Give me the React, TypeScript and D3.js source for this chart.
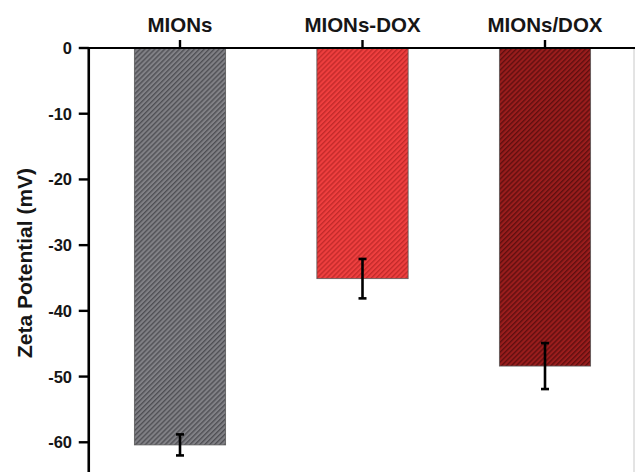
import React from "react";
import * as d3 from "d3";

const categories = ["MIONs", "MIONs-DOX", "MIONs/DOX"];
const zetaValues = [-60.4, -35.1, -48.4];
const zetaErrors = [1.6, 3.0, 3.5];
const yTicks = [0, -10, -20, -30, -40, -50, -60];

const fills = [
  { base: "#818186", stripe: "#4c4c51" },
  { base: "#ee3f3f", stripe: "#c02828" },
  { base: "#9a1d1d", stripe: "#5c0e0e" },
];

const W = 635;
const H = 472;
const font = "'Liberation Sans', Arial, Helvetica, sans-serif";
const hatch = 3.5;

export default function App() {
  const x = d3
    .scaleBand<string>()
    .domain(categories)
    .range([88.75, 636.25])
    .paddingInner(0.5)
    .paddingOuter(0.25);
  const y = d3.scaleLinear().domain([0, -70]).range([48, 508]);
  const axisX = 88.75;
  const y0 = y(0);

  return (
    <svg
      width={W}
      height={H}
      style={{ position: "absolute", left: 0, top: 0, display: "block", background: "#fff" }}
    >
      <defs>
        {fills.map((f, i) => (
          <pattern
            key={i}
            id={`hatch-${i}`}
            patternUnits="userSpaceOnUse"
            width={hatch}
            height={hatch}
            patternTransform="rotate(45)"
          >
            <rect width={hatch} height={hatch} fill={f.base} />
            <line x1={0.7} y1={0} x2={0.7} y2={hatch} stroke={f.stripe} strokeWidth={1.3} />
          </pattern>
        ))}
      </defs>

      {/* bars */}
      {categories.map((c, i) => {
        const v = zetaValues[i];
        return (
          <rect
            key={c}
            x={x(c)}
            y={y(0)}
            width={x.bandwidth()}
            height={y(v) - y(0)}
            fill={`url(#hatch-${i})`}
            stroke="#5a5a5a"
            strokeWidth={0.8}
          />
        );
      })}

      {/* error bars */}
      {categories.map((c, i) => {
        const cx = (x(c) as number) + x.bandwidth() / 2;
        const top = y(zetaValues[i] + zetaErrors[i]);
        const bot = y(zetaValues[i] - zetaErrors[i]);
        return (
          <g key={c} stroke="#000" strokeWidth={2.6}>
            <line x1={cx} x2={cx} y1={top} y2={bot} />
            <line x1={cx - 4} x2={cx + 4} y1={top} y2={top} />
            <line x1={cx - 4} x2={cx + 4} y1={bot} y2={bot} />
          </g>
        );
      })}

      {/* right frame */}
      <line x1={634} x2={634} y1={y0} y2={H} stroke="#c8c8c8" strokeWidth={1} />

      {/* top axis */}
      <line x1={axisX} x2={W} y1={y0} y2={y0} stroke="#000" strokeWidth={2.2} />
      {categories.map((c) => {
        const cx = (x(c) as number) + x.bandwidth() / 2;
        return (
          <g key={c}>
            <line x1={cx} x2={cx} y1={y0} y2={y0 - 8} stroke="#000" strokeWidth={2.4} />
            <text
              x={cx}
              y={32}
              textAnchor="middle"
              fontFamily={font}
              fontWeight="bold"
              fontSize={20.5}
              fill="#161616"
            >
              {c}
            </text>
          </g>
        );
      })}

      {/* left axis */}
      <line x1={axisX} x2={axisX} y1={y0 - 1.1} y2={H} stroke="#000" strokeWidth={2.6} />
      {yTicks.map((t) => (
        <g key={t}>
          <line x1={axisX - 10} x2={axisX} y1={y(t)} y2={y(t)} stroke="#000" strokeWidth={2.4} />
          <text
            x={72}
            y={y(t) + 6}
            textAnchor="end"
            fontFamily={font}
            fontWeight="bold"
            fontSize={16.5}
            fill="#161616"
          >
            {t}
          </text>
        </g>
      ))}

      <text
        transform={`translate(32, 263) rotate(-90)`}
        textAnchor="middle"
        fontFamily={font}
        fontWeight="bold"
        fontSize={21}
        fill="#161616"
      >
        Zeta Potential (mV)
      </text>
    </svg>
  );
}
